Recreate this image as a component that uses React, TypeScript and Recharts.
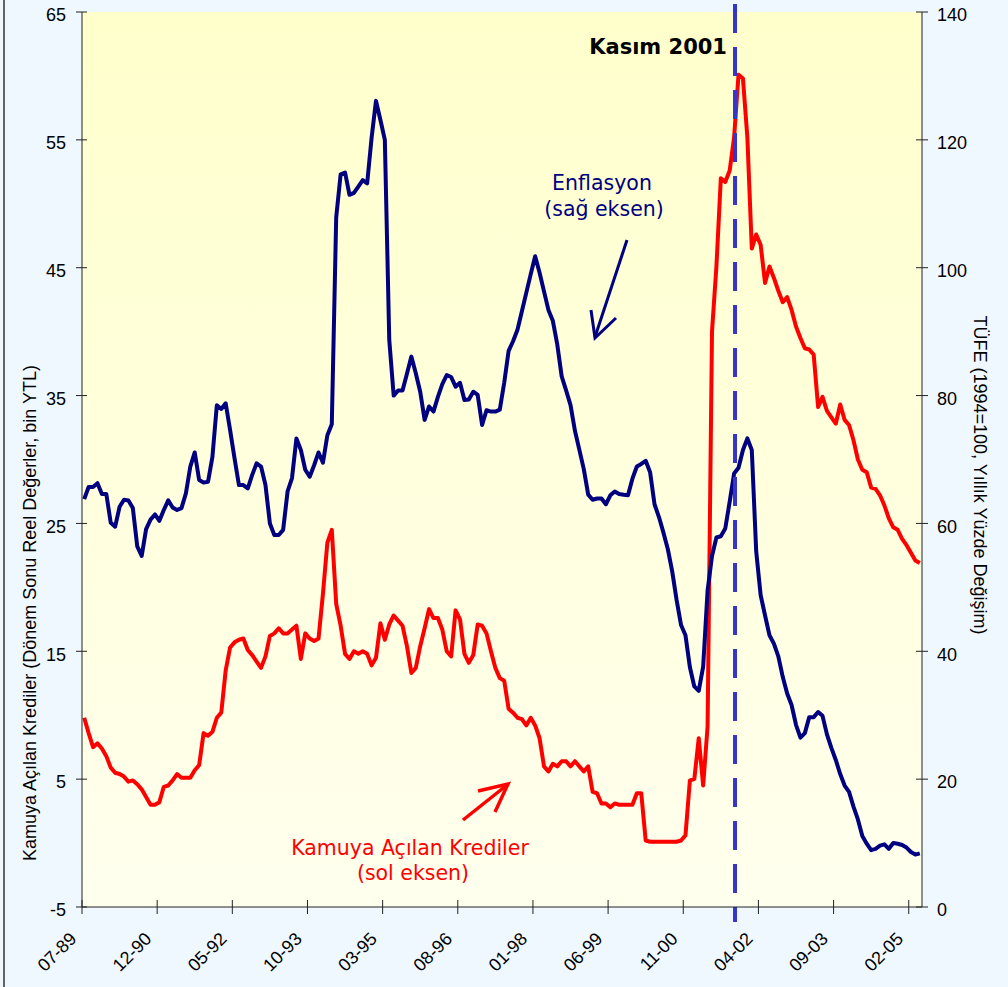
import React from "react";
import { LineChart, Line, XAxis, YAxis, ReferenceLine } from "recharts";

// monthly categories 07-89 .. 04-05
const months: string[] = (() => {
  const out: string[] = [];
  let m = 7;
  let y = 89;
  for (let k = 0; k < 190; k++) {
    out.push(`${String(m).padStart(2, "0")}-${String(y % 100).padStart(2, "0")}`);
    m++;
    if (m > 12) {
      m = 1;
      y++;
    }
  }
  return out;
})();

const xTicks = ["07-89", "12-90", "05-92", "10-93", "03-95", "08-96", "01-98", "06-99", "11-00", "04-02", "09-03", "02-05"];
const leftTicks = [-5, 5, 15, 25, 35, 45, 55, 65];
const rightTicks = [0, 20, 40, 60, 80, 100, 120, 140];

// Kamuya Açılan Krediler (sol eksen)
const krediler = [
  9.8, 8.6, 7.5, 7.8, 7.4, 6.8, 5.9, 5.5, 5.4, 5.2,
  4.8, 4.9, 4.6, 4.2, 3.6, 3.0, 3.0, 3.2, 4.4, 4.5,
  4.9, 5.4, 5.1, 5.1, 5.1, 5.7, 6.1, 8.6, 8.4, 8.7,
  9.8, 10.2, 13.5, 15.3, 15.7, 15.9, 16.0, 15.1, 14.7, 14.2,
  13.7, 14.6, 16.2, 16.4, 16.8, 16.4, 16.4, 16.7, 17.0, 14.4,
  16.4, 16.0, 15.8, 16.0, 19.5, 23.5, 24.5, 18.7, 17.0, 14.8,
  14.4, 15.0, 14.8, 15.0, 14.8, 13.9, 14.5, 17.2, 15.9, 17.1,
  17.8, 17.4, 17.0, 15.4, 13.3, 13.7, 15.4, 16.8, 18.3, 17.6,
  17.6, 16.7, 15.0, 14.6, 18.2, 17.5, 14.8, 14.1, 14.7, 17.1,
  17.0, 16.4, 15.0, 13.7, 12.9, 12.7, 10.5, 10.2, 9.8, 9.7,
  9.2, 9.8, 9.2, 8.2, 6.0, 5.6, 6.2, 6.0, 6.4, 6.4,
  6.0, 6.4, 6.0, 5.6, 6.0, 4.0, 3.9, 3.1, 3.1, 2.8,
  3.1, 3.0, 3.0, 3.0, 3.0, 3.9, 3.9, 0.2, 0.1, 0.1,
  0.1, 0.1, 0.1, 0.1, 0.1, 0.2, 0.6, 4.9, 5.0, 8.2,
  4.5, 9.1, 40.0, 45.1, 52.0, 51.7, 52.6, 55.2, 60.1, 59.8,
  55.2, 46.5, 47.6, 46.8, 43.8, 45.1, 44.2, 43.2, 42.3, 42.7,
  41.7, 40.4, 39.5, 38.7, 38.6, 38.2, 34.1, 34.9, 33.8, 33.3,
  32.8, 34.3, 33.1, 32.7, 31.5, 30.0, 29.2, 29.0, 27.8, 27.7,
  27.2, 26.4, 25.4, 24.7, 24.5, 23.8, 23.3, 22.7, 22.1, 21.9,
];

// Enflasyon, TÜFE yıllık % (sağ eksen)
const enflasyon = [
  63.8, 65.7, 65.7, 66.3, 64.6, 64.6, 60.1, 59.5, 62.6, 63.7,
  63.6, 62.4, 56.4, 54.9, 59.1, 60.6, 61.4, 60.4, 62.1, 63.6,
  62.5, 62.1, 62.4, 64.7, 68.9, 71.1, 66.8, 66.4, 66.5, 70.4,
  78.5, 77.9, 78.8, 74.6, 70.2, 66.0, 66.0, 65.5, 67.6, 69.4,
  68.9, 66.0, 60.0, 58.2, 58.2, 59.0, 65.0, 67.1, 73.3, 71.5,
  68.4, 67.3, 69.1, 71.1, 69.5, 73.8, 75.5, 107.9, 114.6, 114.9,
  111.4, 111.7, 112.7, 113.7, 113.2, 120.3, 126.1, 123.1, 120.0, 88.7,
  80.0, 80.8, 80.8, 83.4, 86.1, 83.5, 80.6, 76.2, 78.3, 77.5,
  79.8, 81.8, 83.2, 82.9, 81.4, 82.0, 79.3, 79.4, 80.6, 80.1,
  75.4, 77.7, 77.5, 77.5, 77.8, 82.0, 87.0, 88.5, 90.3, 93.2,
  96.1, 99.0, 101.8, 99.2, 96.3, 93.4, 91.7, 88.0, 83.0, 80.8,
  78.5, 74.5, 71.5, 68.5, 64.5, 63.7, 63.9, 63.9, 63.0, 64.4,
  65.0, 64.6, 64.5, 64.4, 67.0, 68.9, 69.3, 69.8, 68.0, 63.0,
  61.0, 58.6, 56.0, 52.5, 48.0, 44.1, 42.5, 37.5, 34.5, 33.8,
  37.6, 49.5, 54.9, 57.8, 58.0, 59.2, 63.4, 67.8, 68.7, 71.5,
  73.3, 71.5, 55.6, 48.8, 45.6, 42.5, 41.2, 39.2, 36.0, 33.4,
  31.6, 28.5, 26.5, 27.2, 29.7, 29.7, 30.5, 29.9, 27.0, 24.9,
  23.0, 20.8, 19.0, 18.0, 15.7, 13.7, 11.1, 9.9, 8.9, 9.1,
  9.6, 9.8, 9.1, 10.0, 9.9, 9.7, 9.3, 8.6, 8.2, 8.4,
];

const data = months.map((m, i) => ({ m, kredi: krediler[i], enf: enflasyon[i] }));

const tickFont = "'Liberation Sans', Arial, sans-serif";
const noteFont = "'DejaVu Sans', Verdana, sans-serif";
const halfBand = 840 / 190 / 2;

const XTick = (p: any) => {
  const x = p.x - halfBand;
  const y = p.y;
  return (
    <g>
      <line x1={x} x2={x} y1={y - 7} y2={y + 7} stroke="#222" strokeWidth={1} />
      <text
        x={x - 4.5}
        y={y + 33}
        textAnchor="end"
        fontSize={18}
        fontFamily={tickFont}
        fill="#000"
        transform={`rotate(-45 ${x - 4.5} ${y + 33})`}
      >
        {p.payload.value}
      </text>
    </g>
  );
};

const LeftTick = (p: any) => (
  <g>
    <line x1={p.x - 6} x2={p.x + 5} y1={p.y} y2={p.y} stroke="#222" strokeWidth={1} />
    <text x={p.x - 16} y={p.y + 3} dy="0.35em" textAnchor="end" fontSize={18} fontFamily={tickFont} fill="#000">
      {p.payload.value}
    </text>
  </g>
);

const RightTick = (p: any) => (
  <g>
    <line x1={p.x - 6} x2={p.x + 6} y1={p.y} y2={p.y} stroke="#222" strokeWidth={1} />
    <text x={p.x + 15} y={p.y + 3} dy="0.35em" textAnchor="start" fontSize={18} fontFamily={tickFont} fill="#000">
      {p.payload.value}
    </text>
  </g>
);

const CrisisLine = (p: any) => {
  const x = p.x1 - 3.5;
  const top = Math.min(p.y1, p.y2) - 8;
  const bottom = Math.max(p.y1, p.y2) + 15;
  return <line x1={x} x2={x} y1={top} y2={bottom} stroke="#3535C8" strokeWidth={4} strokeDasharray="29 14" />;
};

export default function App() {
  return (
    <div style={{ position: "absolute", left: 0, top: 0, width: 1008, height: 987, background: "#F0F8FF", overflow: "hidden" }}>
      <svg width={1008} height={987} style={{ position: "absolute", left: 0, top: 0 }}>
        <defs>
          <linearGradient id="plotBg" x1="0" y1="0" x2="0" y2="1">
            <stop offset="0%" stopColor="#FFFFCC" />
            <stop offset="100%" stopColor="#FFFFEE" />
          </linearGradient>
        </defs>
        <rect x={82} y={12} width={840} height={895} fill="url(#plotBg)" />
        <line x1={4} x2={4} y1={0} y2={987} stroke="#333" strokeWidth={1.5} />
      </svg>
      <div style={{ position: "absolute", left: 0, top: 0 }}>
        <LineChart width={1008} height={987} data={data} margin={{ top: 12, right: 26, bottom: 10, left: 22 }}>
          <XAxis
            dataKey="m"
            ticks={xTicks}
            interval={0}
            padding={{ left: halfBand, right: halfBand }}
            height={70}
            tickLine={false}
            tickSize={0}
            tickMargin={0}
            axisLine={{ stroke: "#222" }}
            tick={(p: any) => <XTick {...p} />}
          />
          <YAxis
            yAxisId="left"
            domain={[-5, 65]}
            ticks={leftTicks}
            interval={0}
            width={60}
            tickLine={false}
            tickSize={0}
            tickMargin={0}
            axisLine={{ stroke: "#222" }}
            tick={(p: any) => <LeftTick {...p} />}
            allowDataOverflow
          />
          <YAxis
            yAxisId="right"
            orientation="right"
            domain={[0, 140]}
            ticks={rightTicks}
            interval={0}
            width={60}
            tickLine={false}
            tickSize={0}
            tickMargin={0}
            axisLine={{ stroke: "#222" }}
            tick={(p: any) => <RightTick {...p} />}
            allowDataOverflow
          />
          <Line
            yAxisId="left"
            type="linear"
            dataKey="kredi"
            stroke="#FF0000"
            strokeWidth={4}
            strokeLinejoin="round"
            dot={false}
            activeDot={false}
            isAnimationActive={false}
          />
          <Line
            yAxisId="right"
            type="linear"
            dataKey="enf"
            stroke="#000080"
            strokeWidth={4}
            strokeLinejoin="round"
            dot={false}
            activeDot={false}
            isAnimationActive={false}
          />
          <ReferenceLine yAxisId="left" x="11-01" shape={(p: any) => <CrisisLine {...p} />} />
        </LineChart>
      </div>
      <svg width={1008} height={987} style={{ position: "absolute", left: 0, top: 0, pointerEvents: "none" }}>
        <text x={30} y={613} transform="rotate(-90 30 613)" textAnchor="middle" dominantBaseline="central" fontSize={18} fontFamily={tickFont} fill="#000">
          Kamuya Açılan Krediler (Dönem Sonu Reel Değerler, bin YTL)
        </text>
        <text x={980} y={475} transform="rotate(90 980 475)" textAnchor="middle" dominantBaseline="central" fontSize={18} fontFamily={tickFont} fill="#000">
          TÜFE (1994=100, Yıllık Yüzde Değişim)
        </text>
        <text x={727} y={54} textAnchor="end" fontSize={21} fontWeight="bold" fontFamily={noteFont} fill="#000">
          Kasım 2001
        </text>
        <text x={602} y={190} textAnchor="middle" fontSize={20.5} fontFamily={noteFont} fill="#000080">
          Enflasyon
        </text>
        <text x={604} y={216} textAnchor="middle" fontSize={20.5} fontFamily={noteFont} fill="#000080">
          (sağ eksen)
        </text>
        <line x1={627} y1={240} x2={595} y2={337} stroke="#000080" strokeWidth={3} />
        <polyline points="591,310 595,338 616,318" fill="none" stroke="#000080" strokeWidth={3} />
        <text x={410} y={855} textAnchor="middle" fontSize={20.5} fontFamily={noteFont} fill="#FF0000">
          Kamuya Açılan Krediler
        </text>
        <text x={413} y={880} textAnchor="middle" fontSize={20.5} fontFamily={noteFont} fill="#FF0000">
          (sol eksen)
        </text>
        <line x1={463} y1={820} x2={507} y2={785} stroke="#FF0000" strokeWidth={3.5} />
        <polyline points="478,791 508,784 495,812" fill="none" stroke="#FF0000" strokeWidth={3.5} />
      </svg>
    </div>
  );
}
